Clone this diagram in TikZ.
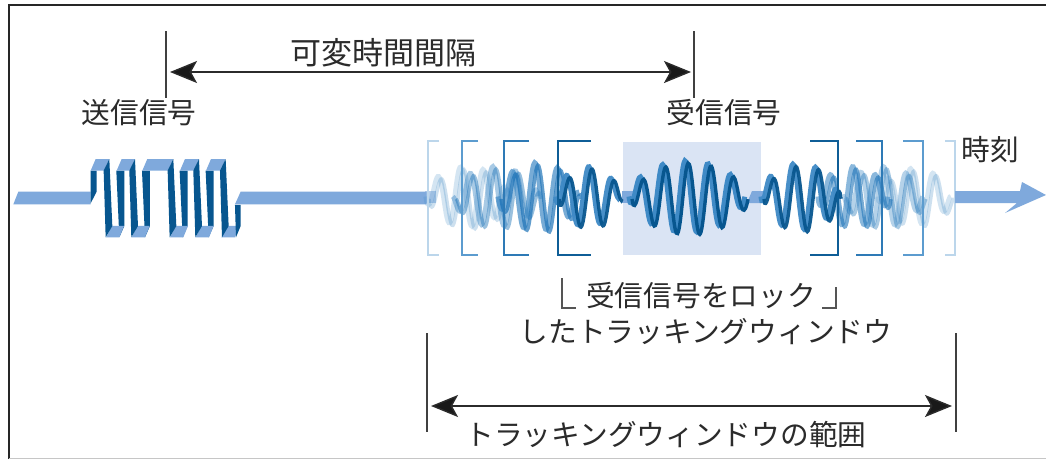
\documentclass[tikz,border=0pt]{standalone}
\usepackage{fontspec}
\setmainfont{Noto Sans CJK JP}
\usetikzlibrary{arrows.meta}
\definecolor{inkline}{HTML}{2B2B2B}
\definecolor{ribbonlight}{HTML}{7FA9DC}
\definecolor{ribbondark}{HTML}{07568F}
\definecolor{ribbonmid}{HTML}{3F8AC6}
\definecolor{echodark}{HTML}{1F74B8}
\definecolor{lockbox}{HTML}{DAE4F4}
\tikzset{
  label/.style={font=\fontsize{28.7}{29}\selectfont,text=inkline,inner sep=0pt,anchor=center},
  tick/.style={draw=inkline!90,line width=1.3pt},
  span/.style={draw=inkline,line width=1.4pt,{Stealth[length=27pt,width=22pt,inset=6pt,fill=black!90]}-{Stealth[length=27pt,width=22pt,inset=6pt,fill=black!90]}},
  winbr/.style={line width=1.7pt,line cap=butt},
}
% one echo of the carrier: from, to, phase reference, amplitude, opacity, core colour
\newcommand{\echo}[6]{%
  \draw[ribbonmid,line width=4.8pt,opacity=#5,shift={(-2.2,-1.5)}] plot[domain=#1:#2,samples=90,smooth]
    (\x,{198-#4*sqrt(abs(sin((\x-#1)/(#2-#1)*180)))*sin((\x-#3)/22.7*360)});
  \draw[#6,line width=3.4pt,opacity=#5,shift={(1,1)}] plot[domain=#1:#2,samples=90,smooth]
    (\x,{198-#4*sqrt(abs(sin((\x-#1)/(#2-#1)*180)))*sin((\x-#3)/22.7*360)});
}
% parts of the transmitted square pulse train
\newcommand{\toppanel}[2]{%
  \fill[ribbonlight] (#1,212)--(#1+15,177)--(#2,177)--(#2-16,212)--cycle;
  \fill[ribbondark] (#2,177)--(#2-17,212)--(#2-11,412)--(#2+9,378)--cycle;
}
\newcommand{\botpanel}[1]{%
  \fill[ribbonlight] (#1,412)--(#1+17,378)--(#1+54,378)--(#1+40,412)--cycle;
}
\newcommand{\risewall}[1]{%
  \fill[ribbondark] (#1-1,212)--(#1+23,212)--(#1+23,378)--(#1+8,412)--cycle;
}
\begin{document}
\begin{tikzpicture}[x=1pt,y=-1pt]
\useasboundingbox (0,0) rectangle (1046,459);
\fill[white] (0,0) rectangle (1046,459);
% frame: left and top rules, hairline along the foot
\draw[black!85,line width=1.6pt] (9,459)--(9,5)--(1046,5);
\draw[gray!45,line width=1pt] (9,458)--(1046,458);

% transmitted pulse train
\begin{scope}[x=0.3333pt,y=-0.3333pt,shift={(0pt,-100pt)}]
\fill[ribbonlight] (40,313)--(55,275)--(272,275)--(272,313)--cycle;
\fill[ribbondark] (272,212)--(290,212)--(290,275)--(272,310)--cycle;
\risewall{350}\risewall{427}\risewall{540}\risewall{618}
\botpanel{318}\botpanel{395}\botpanel{510}\botpanel{587}\botpanel{665}
\toppanel{272}{328}\toppanel{350}{405}\toppanel{427}{520}\toppanel{540}{597}\toppanel{618}{677}
\fill[ribbondark] (705,315)--(722,315)--(722,378)--(708,412)--cycle;
\fill[ribbonlight] (705,313)--(722,275)--(1280,275)--(1280,313)--cycle;
\end{scope}

% lock window shading
\fill[lockbox] (623,142) rectangle (761,255);

% received signal baseline pieces
\fill[ribbonlight,opacity=.55] (425,191) rectangle (436,203);
\fill[ribbonlight] (622,191) rectangle (633,203);
\fill[ribbonlight] (747,203)--(752,191)--(765,191)--(765,203)--cycle;

% received echoes, faintest first
\echo{428}{510}{434.3}{30}{.22}{echodark}
\echo{880}{953}{884.3}{28}{.22}{echodark}
\echo{455}{540}{489.3}{30}{.45}{echodark}
\echo{845}{925}{857.3}{30}{.38}{echodark}
\echo{500}{580}{531.3}{34}{.7}{echodark}
\echo{820}{890}{849.3}{30}{.6}{echodark}
\echo{558}{621}{585.3}{30}{.95}{ribbondark}
\echo{763}{840}{789.3}{33}{.95}{ribbondark}
\echo{631}{747}{636.3}{36}{1}{ribbondark}

% tracking window brackets
\draw[winbr,ribbonmid!35] (439,141)-|(428,255)--(439,255);
\draw[winbr,ribbonmid!85] (478,141)-|(462,255)--(478,255);
\draw[winbr,ribbonmid!70!ribbondark] (529,141)-|(504,255)--(529,255);
\draw[winbr,ribbondark!85!ribbonmid] (591,141)-|(558,255)--(591,255);
\draw[winbr,ribbondark!85!ribbonmid] (810,141)-|(838,255)--(810,255);
\draw[winbr,ribbonmid!70!ribbondark] (856,141)-|(882,255)--(856,255);
\draw[winbr,ribbonmid!85] (903,141)-|(923,255)--(903,255);
\draw[winbr,ribbonmid!35] (945,141)-|(955,255)--(945,255);

% time axis arrow
\fill[ribbonlight] (955,191)--(1020,191)--(1022,182)--(1046,195)--(1005,213)--(1017,203)--(955,203)--cycle;

% dimension markers
\coordinate (txtop) at (166,31); \coordinate (txbot) at (166,98);
\coordinate (rxtop) at (694,31); \coordinate (rxbot) at (694,98);
\coordinate (txarrow) at (170,72); \coordinate (rxarrow) at (691,72);
\draw[tick] (txtop)--(txbot);
\draw[tick] (rxtop)--(rxbot);
\draw[span] (txarrow)--(rxarrow);
\coordinate (lotop) at (427,333); \coordinate (lobot) at (427,432);
\coordinate (hitop) at (956,333); \coordinate (hibot) at (956,432);
\coordinate (loarrow) at (431,406); \coordinate (hiarrow) at (952,406);
\draw[tick] (lotop)--(lobot);
\draw[tick] (hitop)--(hibot);
\draw[span] (loarrow)--(hiarrow);

% corner marks around the lock caption
\draw[inkline!80,line width=1.1pt] (562,278)--(562,308)--(576,308);
\draw[inkline!80,line width=1.1pt] (836,287)--(836,308)--(822,308);

% captions
\node[label] (gap) at (383,53) {\fontsize{31}{31}\selectfont 可変時間間隔};
\node[label] (tx) at (139,113) {送信信号};
\node[label] (rx) at (724,113) {受信信号};
\node[label] (time) at (990,150) {時刻};
\node[label] (lock) at (701,296) {受信信号をロック};
\node[label] (lock2) at (706,332) {したトラッキングウィンドウ};
\node[label] (range) at (666,435) {トラッキングウィンドウの範囲};
\end{tikzpicture}
\end{document}
